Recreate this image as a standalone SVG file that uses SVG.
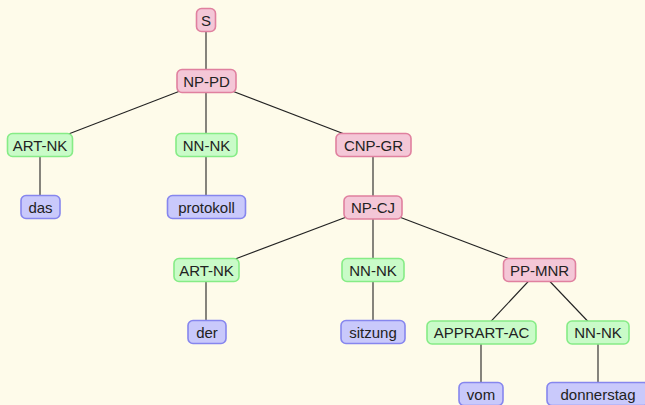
<svg xmlns="http://www.w3.org/2000/svg" width="645" height="405" viewBox="0 0 645 405">
<style>
.bg{fill:#fefbea}
rect.n{rx:5;ry:5;stroke-width:1.6}
.p{fill:#f4c7d7;stroke:#e0809f}
.g{fill:#c9fbc8;stroke:#86ec86}
.b{fill:#c9c9fb;stroke:#8686ee}
text{font-family:"Liberation Sans",Arial,sans-serif;font-size:15px;fill:#222;text-anchor:middle;dominant-baseline:central}
#edges line{stroke:#222;stroke-width:1.1}
</style>
<rect class="bg" x="0" y="0" width="645" height="405"/>
<g id="edges">
<line x1="206" y1="20" x2="206" y2="81"/>
<line x1="206" y1="81" x2="40" y2="145"/>
<line x1="206" y1="81" x2="206" y2="145"/>
<line x1="206" y1="81" x2="373" y2="145"/>
<line x1="40" y1="145" x2="40" y2="207"/>
<line x1="206" y1="145" x2="206" y2="207"/>
<line x1="373" y1="145" x2="373" y2="207"/>
<line x1="373" y1="207" x2="206" y2="270"/>
<line x1="373" y1="207" x2="373" y2="270"/>
<line x1="373" y1="207" x2="539" y2="270"/>
<line x1="206" y1="270" x2="206" y2="332"/>
<line x1="373" y1="270" x2="373" y2="332"/>
<line x1="539" y1="270" x2="481" y2="332"/>
<line x1="539" y1="270" x2="598" y2="332"/>
<line x1="481" y1="332" x2="481" y2="394"/>
<line x1="598" y1="332" x2="598" y2="394"/>
</g>
<g id="n-S"><rect class="n p" x="196.5" y="8.5" width="19" height="23"/><text x="206" y="20">S</text></g>
<g id="n-NP-PD"><rect class="n p" x="177" y="69.5" width="59" height="23"/><text x="206.5" y="81">NP-PD</text></g>
<g id="n-ART-NK1"><rect class="n g" x="7.5" y="133.5" width="65" height="23"/><text x="40" y="145">ART-NK</text></g>
<g id="n-NN-NK1"><rect class="n g" x="176" y="133.5" width="61" height="23"/><text x="206.5" y="145">NN-NK</text></g>
<g id="n-CNP-GR"><rect class="n p" x="336" y="133.5" width="75" height="23"/><text x="373.5" y="145">CNP-GR</text></g>
<g id="n-das"><rect class="n b" x="21" y="195.5" width="39" height="23"/><text x="40.5" y="207">das</text></g>
<g id="n-protokoll"><rect class="n b" x="167.5" y="195.5" width="78" height="23"/><text x="206.5" y="207">protokoll</text></g>
<g id="n-NP-CJ"><rect class="n p" x="344" y="196" width="58" height="23"/><text x="373" y="207.5">NP-CJ</text></g>
<g id="n-ART-NK2"><rect class="n g" x="174" y="258.5" width="65" height="23"/><text x="206.5" y="270">ART-NK</text></g>
<g id="n-NN-NK2"><rect class="n g" x="342" y="258.5" width="62" height="23"/><text x="373" y="270">NN-NK</text></g>
<g id="n-PP-MNR"><rect class="n p" x="503.5" y="258.5" width="72" height="23"/><text x="539.5" y="270">PP-MNR</text></g>
<g id="n-der"><rect class="n b" x="188" y="320.5" width="38" height="23"/><text x="207" y="332">der</text></g>
<g id="n-sitzung"><rect class="n b" x="341" y="320.5" width="64" height="23"/><text x="373" y="332">sitzung</text></g>
<g id="n-APPRART-AC"><rect class="n g" x="427" y="321" width="109" height="23"/><text x="481.5" y="332.5">APPRART-AC</text></g>
<g id="n-NN-NK3"><rect class="n g" x="567" y="321" width="62" height="23"/><text x="598" y="332.5">NN-NK</text></g>
<g id="n-vom"><rect class="n b" x="459" y="382.5" width="44" height="23"/><text x="481" y="394">vom</text></g>
<g id="n-donnerstag"><rect class="n b" x="547" y="382.5" width="102" height="23"/><text x="598" y="394">donnerstag</text></g>
</svg>
